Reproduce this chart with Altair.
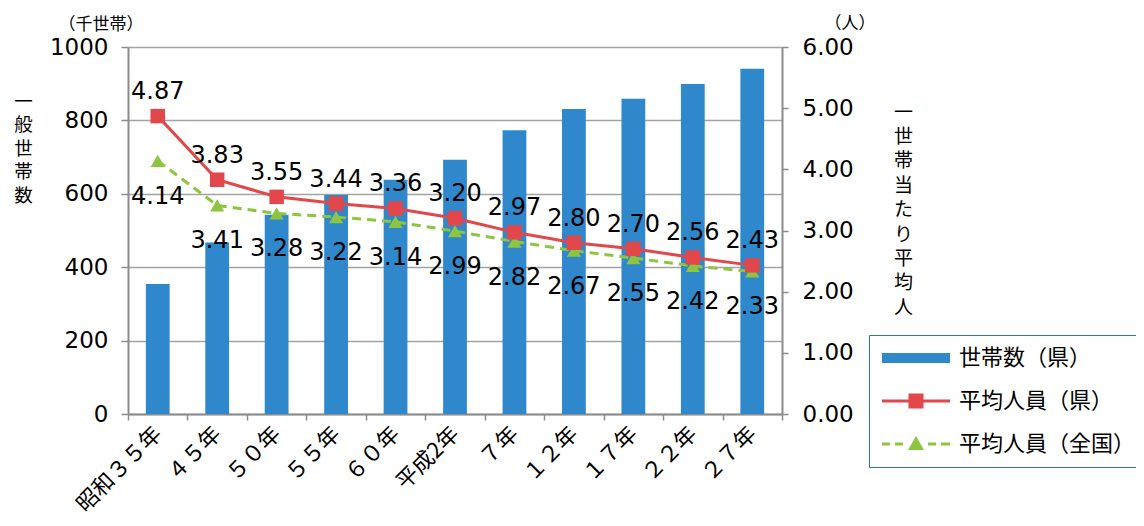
import altair as alt
import pandas as pd

years = ["昭和３５年", "４５年", "５０年", "５５年", "６０年", "平成2年",
         "７年", "１２年", "１７年", "２２年", "２７年"]
households = [354, 467, 543, 597, 638, 693, 773, 831, 859, 899, 941]
avg_pref = [4.87, 3.83, 3.55, 3.44, 3.36, 3.20, 2.97, 2.80, 2.70, 2.56, 2.43]
avg_nat = [4.14, 3.41, 3.28, 3.22, 3.14, 2.99, 2.82, 2.67, 2.55, 2.42, 2.33]
series_names = ["世帯数（県）", "平均人員（県）", "平均人員（全国）"]
left_ticks = [0, 200, 400, 600, 800, 1000]
right_ticks = [0, 1, 2, 3, 4, 5, 6]

df = pd.DataFrame({"year": years, "households": households,
                   "pref": avg_pref, "nat": avg_nat})

JP = "Noto Sans CJK JP"
NUM = "DejaVu Sans"
BLUE = "#2F88CC"
RED = "#E2474B"
GREEN = "#8DC440"
GRAY = "#8C8C8C"

x_enc = alt.X(
    "year:N", sort=years, title=None,
    scale=alt.Scale(paddingInner=0, paddingOuter=0),
    axis=alt.Axis(labelAngle=-45, labelAlign="right", labelBaseline="middle",
                  labelFont=JP, labelFontSize=22, labelColor="black",
                  labelPadding=10, tickBand="extent", tickSize=6,
                  tickColor=GRAY, tickWidth=1.5, domainColor=GRAY,
                  domainWidth=2, grid=False),
)

left_axis = alt.Axis(
    values=left_ticks, format="d", grid=True, gridColor="#A3A3A3", gridWidth=1.5,
    title=list("一般世帯数"), titleAngle=0, titleX=-105, titleY=45,
    titleBaseline="top", titleAlign="center", titleLineHeight=23.5,
    titleFont=JP, titleFontSize=18.5, titleFontWeight="normal",
    titleColor="black",
    labelFont=NUM, labelFontSize=23, labelColor="black", labelPadding=13,
    tickSize=7, tickColor=GRAY, tickWidth=1.5, domainColor=GRAY,
    domainWidth=2,
)

right_axis = alt.Axis(
    values=right_ticks, format=".2f", grid=False, orient="right",
    title=list("一世帯当たり平均人"), titleAngle=0, titleX=121, titleY=56,
    titleBaseline="top", titleAlign="center", titleLineHeight=24.4,
    titleFont=JP, titleFontSize=19, titleFontWeight="normal",
    titleColor="black",
    labelFont=NUM, labelFontSize=23, labelColor="black", labelPadding=14,
    tickSize=6, tickColor=GRAY, tickWidth=1.5, domainColor=GRAY,
    domainWidth=2,
)
right_scale = alt.Scale(domain=[0, 6])

base = alt.Chart(df)

bars = base.mark_bar(width=alt.RelativeBandSize(0.4), color=BLUE).encode(
    x=x_enc,
    y=alt.Y("households:Q", scale=alt.Scale(domain=[0, 1000]), axis=left_axis),
)

def yr(field):
    return alt.Y(f"{field}:Q", scale=right_scale, axis=right_axis)

red_line = base.mark_line(color=RED, strokeWidth=3).encode(x=x_enc, y=yr("pref"))
red_pts = base.mark_point(shape="square", filled=True, size=210, color=RED,
                          opacity=1).encode(x=x_enc, y=yr("pref"))
green_line = base.mark_line(color=GREEN, strokeWidth=3, strokeDash=[9, 6]).encode(
    x=x_enc, y=yr("nat"))
green_pts = base.mark_point(shape="triangle-up", filled=True, size=200,
                            color=GREEN, opacity=1).encode(x=x_enc, y=yr("nat"))
red_txt = base.mark_text(font=NUM, fontSize=24, baseline="alphabetic",
                         dy=-17, color="black").encode(
    x=x_enc, y=yr("pref"), text=alt.Text("pref:Q", format=".2f"))
green_txt = base.mark_text(font=NUM, fontSize=24, baseline="alphabetic",
                           dy=43, color="black").encode(
    x=x_enc, y=yr("nat"), text=alt.Text("nat:Q", format=".2f"))

bar_path = "M-1,-0.5H5.8V0.5H-1Z"
red_path = ("M-1,-0.15H5.8V0.15H-1Z "
            "M1.65,-0.75H3.15V0.75H1.65Z")
green_path = ("M-1,-0.15H-0.2V0.15H-1Z "
              "M0.3,-0.15H1.1V0.15H0.3Z "
              "M2.4,-0.8L3.2,0.6H1.6Z "
              "M3.6,-0.15H4.4V0.15H3.6Z "
              "M4.9,-0.15H5.8V0.15H4.9Z")

legend = alt.Legend(
    orient="none", legendX=741, legendY=288, title=None,
    symbolSize=400, symbolOpacity=1, symbolStrokeWidth=0,
    labelFont=JP, labelFontSize=22, labelColor="black", labelOffset=56,
    labelLimit=400, rowPadding=21, padding=12,
    strokeColor="#2E75B6", fillColor="white",
)

legend_layer = alt.Chart(pd.DataFrame({"series": series_names})).mark_point(
    filled=True, opacity=0).encode(
    color=alt.Color("series:N", sort=series_names,
                    scale=alt.Scale(domain=series_names, range=[BLUE, RED, GREEN]),
                    legend=legend),
    shape=alt.Shape("series:N", sort=series_names,
                    scale=alt.Scale(domain=series_names,
                                    range=[bar_path, red_path, green_path]),
                    legend=legend),
)

unit_left = alt.Chart(pd.DataFrame({"t": ["（千世帯）"]})).mark_text(
    font=JP, fontSize=17, color="black").encode(
    x=alt.value(-27), y=alt.value(-22), text="t:N")
unit_right = alt.Chart(pd.DataFrame({"t": ["（人）"]})).mark_text(
    font=JP, fontSize=17, color="black").encode(
    x=alt.value(722), y=alt.value(-23), text="t:N")

inner = alt.layer(green_line, red_line, green_pts, red_pts, red_txt, green_txt,
                  legend_layer, unit_left, unit_right)

chart = alt.layer(bars, inner).resolve_scale(y="independent").properties(
    width=654, height=367,
    autosize=alt.AutoSizeParams(type="none"),
    padding={"left": 120, "top": 39, "right": 354, "bottom": 104},
).configure_view(strokeWidth=0)

chart.save("out.html", embed_options={"renderer": "svg", "actions": False})
